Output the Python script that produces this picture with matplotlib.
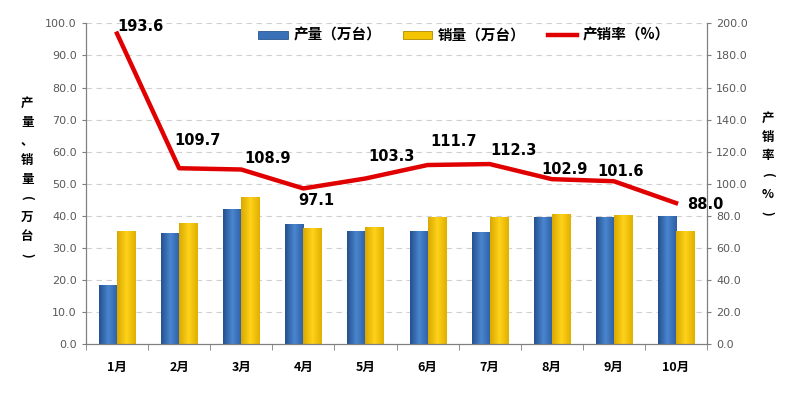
"""
Monthly production / sales with production-sales ratio
"""

import numpy as np
import matplotlib.pyplot as plt
from matplotlib.colors import LinearSegmentedColormap

plt.rcParams["font.family"] = ["Noto Sans CJK SC", "DejaVu Sans"]

months = ["1月", "2月", "3月", "4月", "5月", "6月", "7月", "8月", "9月", "10月"]
production = [18.5, 34.6, 42.0, 37.4, 35.2, 35.4, 35.1, 39.7, 39.7, 40.0]
sales = [35.3, 37.8, 45.8, 36.1, 36.4, 39.7, 39.7, 40.5, 40.3, 35.3]
ratio = [193.6, 109.7, 108.9, 97.1, 103.3, 111.7, 112.3, 102.9, 101.6, 88.0]

left_label = "产量、销量(万台)"
right_label = "产销率(%)"

# label offsets (points) for the ratio labels
label_off = [(17, 5), (13, 20), (19, 8), (9, -9), (19, 16), (19, 17), (17, 10), (9, 7), (5, 7), (21, -1)]

grey = "#7f7f7f"
x = np.arange(len(months))
w = 0.29

fig = plt.figure(figsize=(7.99, 3.95), dpi=100)
ax = fig.add_axes([0.1076, 0.1284, 0.7773, 0.8126])
ax2 = ax.twinx()

blue_cm = LinearSegmentedColormap.from_list("b", ["#24508f", "#4a86cf", "#2d5fa5"])
yel_cm = LinearSegmentedColormap.from_list("y", ["#d9a800", "#ffd21a", "#e0b000"])
grad = np.linspace(0, 1, 64).reshape(1, -1)

b1 = ax.bar(x - w / 2, production, w, color="#3a70b8", edgecolor="#2a5590", linewidth=0.6, zorder=2)
b2 = ax.bar(x + w / 2, sales, w, color="#f5c400", edgecolor="#b08a00", linewidth=0.6, zorder=2)
for bars, cm in [(b1, blue_cm), (b2, yel_cm)]:
    for p in bars:
        x0, y0 = p.get_x(), p.get_y()
        im = ax.imshow(grad, cmap=cm, aspect="auto", zorder=2.5,
                       extent=[x0, x0 + p.get_width(), y0, y0 + p.get_height()])
        im.set_clip_path(p)

ax.set_xlim(-0.5, len(months) - 0.5)
ax.set_ylim(0, 100)
ax.set_yticks(np.arange(0, 101, 10))
ax.set_yticklabels([f"{v:.1f}" for v in np.arange(0, 101, 10)], fontsize=8, color="#595959",
                   family="DejaVu Sans")
ax.set_xticks(x)
ax.set_xticklabels(months, fontsize=9, fontweight="bold")
ax.set_xticks(np.arange(-0.5, len(months)), minor=True)
ax.tick_params(axis="x", which="major", length=0, pad=12)
ax.tick_params(axis="x", which="minor", length=4, color=grey, direction="out")
ax.tick_params(axis="y", length=3, color=grey)
ax.grid(axis="y", linestyle=(0, (5, 4)), color="#d0d0d0", linewidth=0.8, zorder=0)
ax.set_axisbelow(True)

ln, = ax2.plot(x, ratio, color="#e00000", linewidth=3.2, solid_joinstyle="round", zorder=3)
ax2.set_ylim(0, 200)
ax2.set_yticks(np.arange(0, 201, 20))
ax2.set_yticklabels([f"{v:.1f}" for v in np.arange(0, 201, 20)], fontsize=8, color="#595959",
                    family="DejaVu Sans")
ax2.tick_params(axis="y", length=3, color=grey)
for i, v in enumerate(ratio):
    ax2.annotate(f"{v:.1f}", (x[i], v), xytext=label_off[i], textcoords="offset points",
                 ha="center", va="center", fontsize=10.5, fontweight="bold", family="DejaVu Sans")

for a in (ax, ax2):
    a.spines["top"].set_visible(False)
    for s in ("left", "right", "bottom"):
        a.spines[s].set_color(grey)

ax2.legend([b1, b2, ln], ["产量（万台）", "销量（万台）", "产销率（%）"], loc="center",
           bbox_to_anchor=(0.609, 0.964), ncol=3, frameon=False, handlelength=2.0,
           handleheight=0.5, handletextpad=0.4, columnspacing=1.5,
           prop={"weight": "bold", "size": 10.5})


def vertical_text(xf, ytop, text, step):
    # stack characters top to bottom, turning brackets sideways
    for k, ch in enumerate(text):
        rot = 270 if ch in "()" else 0
        fig.text(xf, ytop - k * step, ch, ha="center", va="center", rotation=rot,
                 fontsize=9, fontweight="bold")


vertical_text(0.034, 1 - 103 / 395, left_label, step=19 / 395)
vertical_text(0.961, 1 - 118 / 395, right_label, step=19 / 395)

fig.savefig("out.png", dpi=100)
plt.close()
